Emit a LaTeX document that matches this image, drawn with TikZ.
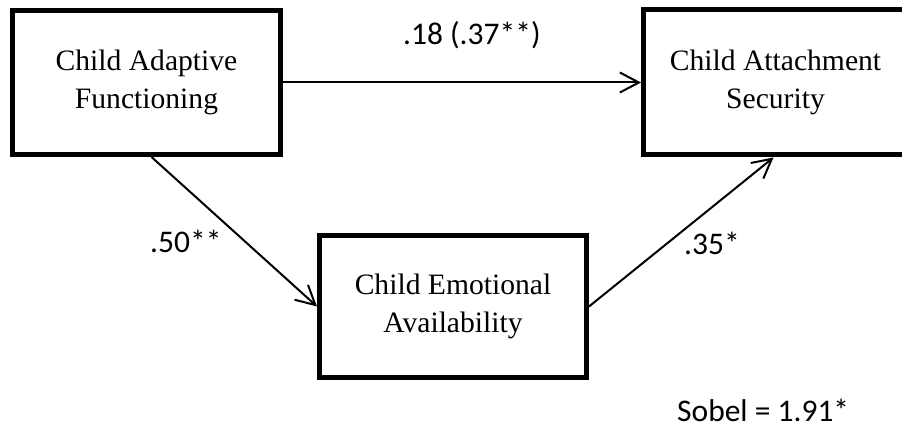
\documentclass[tikz,border=0pt]{standalone}
\usepackage{fontspec}
\setmainfont{Liberation Serif}
\newfontfamily\calfont{Carlito}
\usetikzlibrary{arrows.meta}
\tikzset{
  boxnode/.style={draw=black, line width=5pt, inner sep=0pt, outer sep=2.5pt, align=center,
    font=\fontsize{29.6}{38}\selectfont},
  conn/.style={line width=2pt, -{Straight Barb[length=19pt,width=20pt,line width=2pt]}},
  coef/.style={anchor=base west, inner sep=0pt, font=\calfont\fontsize{31.5}{36}\selectfont}
}
\begin{document}
\begin{tikzpicture}[x=1pt,y=-1pt]
\useasboundingbox (0,0) rectangle (902,427);
\clip (0,0) rectangle (902,427);
\node[boxnode, minimum width=268pt, minimum height=144pt] (adapt) at (146.5,82.5) {Child Adaptive\\Functioning};
\node[boxnode, minimum width=264pt, minimum height=145pt] (attach) at (775.5,82.5) {Child Attachment\\Security};
\node[boxnode, minimum width=267pt, minimum height=142pt] (emot) at (453,306.5) {Child Emotional\\Availability};
\draw[conn] (adapt.east) -- (attach.west);
\draw[conn] ([xshift=5pt]adapt.south) -- (emot.west);
\draw[conn] (emot.east) -- ([xshift=-2pt]attach.south);
\node[coef] (c1) at (403,45) {.18 (.37**)};
\node[coef] (c2) at (150,253) {.50**};
\node[coef] (c3) at (684,255) {.35*};
\node[coef] (sob) at (677,421) {Sobel = 1.91*};
\end{tikzpicture}
\end{document}
